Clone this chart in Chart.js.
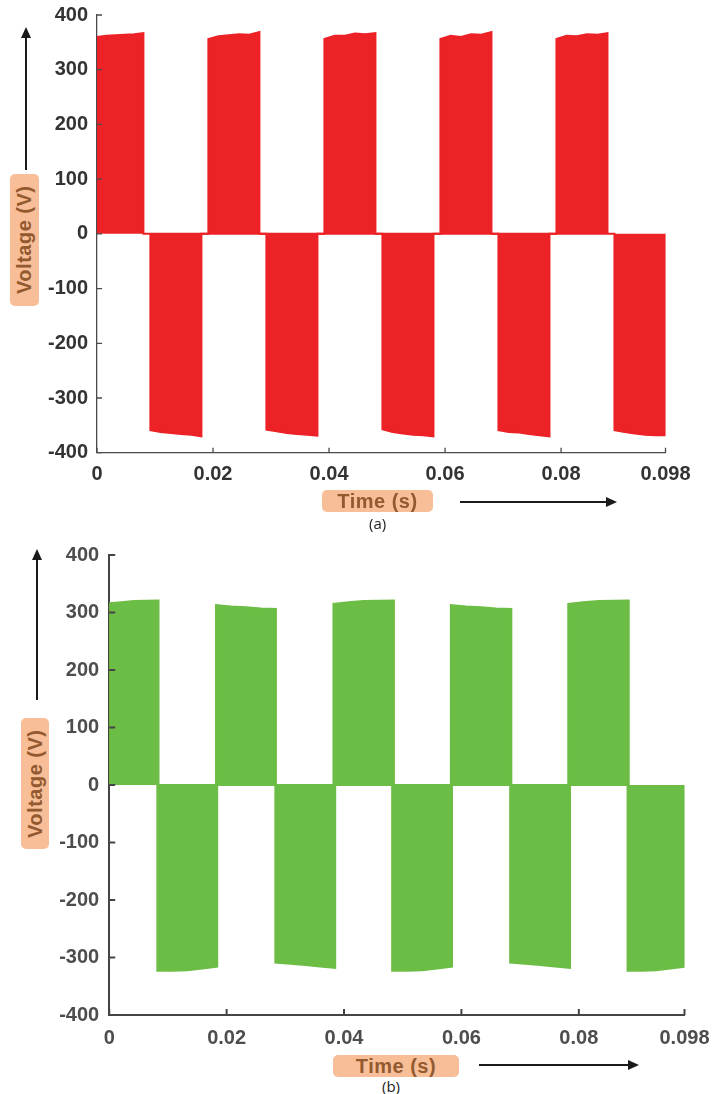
<!DOCTYPE html>
<html>
<head>
<meta charset="utf-8">
<script src="https://cdn.jsdelivr.net/npm/chart.js@4"></script>
<style>
  body { margin: 0; width: 713px; height: 1094px; background: #fff; position: relative; overflow: hidden; font-family: "Liberation Sans", Arial, sans-serif; }
  .box { position: absolute; }
  .tag { position: absolute; background: #f7be98; border-radius: 5px; color: #93592f; font-weight: bold; font-size: 20px; display: flex; align-items: center; justify-content: center; letter-spacing: 0.5px; }
  .vtag { writing-mode: vertical-rl; transform: rotate(180deg); }
  .vline { position: absolute; width: 2px; background: #1a1a1a; }
  .hline { position: absolute; height: 2px; background: #1a1a1a; }
  .uphead { position: absolute; width: 0; height: 0; border-left: 5px solid transparent; border-right: 5px solid transparent; border-bottom: 11px solid #1a1a1a; }
  .righthead { position: absolute; width: 0; height: 0; border-top: 5px solid transparent; border-bottom: 5px solid transparent; border-left: 11px solid #1a1a1a; }
  .cap { position: absolute; font-size: 15px; color: #222; font-family: "Open Sans", "Liberation Sans", sans-serif; }
</style>
</head>
<body>
<div class="box" style="left:0;top:0;width:713px;height:495px"><canvas id="chartA"></canvas></div>
<div class="box" style="left:0;top:535px;width:713px;height:520px"><canvas id="chartB"></canvas></div>

<!-- panel (a) labels -->
<div class="uphead" style="left:21px;top:27px"></div>
<div class="vline" style="left:25px;top:37px;height:133px"></div>
<div class="tag vtag" style="left:10px;top:174px;width:29px;height:132px">Voltage (V)</div>
<div class="tag" style="left:322px;top:490px;width:111px;height:22px">Time (s)</div>
<div class="hline" style="left:460px;top:501px;width:147px"></div>
<div class="righthead" style="left:606px;top:497px"></div>
<div class="cap" style="left:369px;top:513px">(a)</div>

<!-- panel (b) labels -->
<div class="uphead" style="left:32px;top:549px"></div>
<div class="vline" style="left:36px;top:559px;height:141px"></div>
<div class="tag vtag" style="left:21px;top:718px;width:28px;height:131px">Voltage (V)</div>
<div class="tag" style="left:333px;top:1055px;width:126px;height:22px">Time (s)</div>
<div class="hline" style="left:479px;top:1064px;width:150px"></div>
<div class="righthead" style="left:628px;top:1060px"></div>
<div class="cap" style="left:382px;top:1076px">(b)</div>

<script>
// axis ticks
const xTicks = [0, 0.02, 0.04, 0.06, 0.08, 0.098];
const yMin = -400;
const yMax = 400;

// (a) red output: start / end time of each block and its edge voltage read along the block
const redPosStart = [0, 0.0192, 0.0392, 0.0592, 0.0792];
const redPosEnd = [0.0080, 0.0280, 0.0480, 0.0680, 0.0880];
const redPosEdge = [
  [360, 362, 363, 364, 365, 367],
  [356, 361, 363, 365, 364, 369],
  [356, 362, 362, 366, 365, 367],
  [356, 362, 360, 365, 364, 369],
  [356, 362, 361, 365, 364, 367]
];
const redNegStart = [0.0092, 0.0292, 0.0492, 0.0692, 0.0892];
const redNegEnd = [0.0180, 0.0380, 0.0580, 0.0780, 0.098];
const redNegEdge = [
  [-359, -362, -364, -366, -367, -370],
  [-358, -361, -364, -366, -367, -369],
  [-357, -362, -365, -367, -368, -370],
  [-359, -362, -363, -366, -368, -370],
  [-359, -362, -365, -367, -368, -368]
];

// (b) green output
const greenPosStart = [0, 0.0182, 0.0382, 0.0582, 0.0782];
const greenPosEnd = [0.0084, 0.0284, 0.0485, 0.0685, 0.0885];
const greenPosEdge = [
  [316, 318, 320, 320.5, 321],
  [313, 310.5, 309, 307, 306],
  [315, 318, 320, 320.5, 321],
  [313, 310.5, 309, 307, 306],
  [315, 318, 320, 320.5, 321]
];
const greenNegStart = [0.0082, 0.0283, 0.0482, 0.0683, 0.0883];
const greenNegEnd = [0.0184, 0.0385, 0.0584, 0.0785, 0.098];
const greenNegEdge = [
  [-323, -323, -322, -319, -316],
  [-309, -311, -313, -315.5, -318],
  [-323, -323, -322, -319, -316],
  [-309, -311, -313, -315.5, -318],
  [-323, -323, -322, -319, -316]
];

// turn the block lists into line points (edges spread over each block)
const blockPoints = (starts, ends, edges) => {
  let pts = [];
  starts.forEach((s, i) => {
    let e = ends[i];
    let n = edges[i].length;
    pts.push({x: s, y: 0});
    edges[i].forEach((v, j) => {
      pts.push({x: s + (e - s) * j / (n - 1), y: v});
    });
    pts.push({x: e, y: 0});
  });
  return pts;
};

// small inward tick marks like the original plot
const inTicks = {
  id: 'inTicks',
  afterDraw(chart, args, opts) {
    const ctx = chart.ctx;
    const xs = chart.scales.x;
    const ys = chart.scales.y;
    ctx.save();
    ctx.strokeStyle = opts.color;
    ctx.lineWidth = opts.width;
    ctx.beginPath();
    ys.ticks.forEach(t => {
      let py = ys.getPixelForValue(t.value);
      ctx.moveTo(xs.left, py);
      ctx.lineTo(xs.left + opts.len, py);
    });
    xs.ticks.forEach(t => {
      let px = xs.getPixelForValue(t.value);
      ctx.moveTo(px, ys.bottom);
      ctx.lineTo(px, ys.bottom - opts.len);
    });
    ctx.stroke();
    ctx.restore();
  }
};

const makeChart = (id, posPts, negPts, colour, cfg) => {
  const font = {family: '"Liberation Sans", Arial, sans-serif', size: 20, weight: 'bold'};
  return new Chart(document.getElementById(id), {
    type: 'line',
    data: {
      datasets: [
        {data: posPts, borderColor: colour, backgroundColor: colour, fill: 'origin', borderWidth: 2, pointRadius: 0, tension: 0},
        {data: negPts, borderColor: colour, backgroundColor: colour, fill: 'origin', borderWidth: 2, pointRadius: 0, tension: 0}
      ]
    },
    options: {
      responsive: true,
      maintainAspectRatio: false,
      animation: false,
      events: [],
      layout: {padding: {top: cfg.top, right: cfg.right, left: 0, bottom: 0}},
      plugins: {
        legend: {display: false},
        tooltip: {enabled: false},
        inTicks: {color: cfg.axis, width: cfg.axisWidth, len: cfg.tickLen}
      },
      scales: {
        x: {
          type: 'linear',
          min: 0,
          max: 0.098,
          afterBuildTicks: s => { s.ticks = xTicks.map(v => ({value: v})); },
          afterFit: s => { s.height = cfg.xHeight; s.paddingLeft = 0; s.paddingRight = 0; },
          grid: {display: true, drawOnChartArea: false, drawTicks: false},
          border: {display: true, color: cfg.axis, width: cfg.axisWidth},
          ticks: {font: font, color: cfg.text, padding: cfg.xPad, maxRotation: 0, autoSkip: false, callback: v => String(v)}
        },
        y: {
          min: yMin,
          max: yMax,
          afterFit: s => { s.width = cfg.yWidth; s.paddingTop = 0; s.paddingBottom = 0; },
          grid: {display: true, drawOnChartArea: false, drawTicks: false},
          border: {display: true, color: cfg.axis, width: cfg.axisWidth},
          ticks: {font: font, color: cfg.text, padding: cfg.yPad, stepSize: 100}
        }
      }
    },
    plugins: [inTicks]
  });
};

makeChart('chartA',
  blockPoints(redPosStart, redPosEnd, redPosEdge),
  blockPoints(redNegStart, redNegEnd, redNegEdge),
  '#ec2227',
  {top: 15, right: 47.5, yWidth: 97, xHeight: 42.3, xPad: 10, yPad: 9, axis: '#4a4a4a', axisWidth: 1.3, tickLen: 5, text: '#333333'});

makeChart('chartB',
  blockPoints(greenPosStart, greenPosEnd, greenPosEdge),
  blockPoints(greenNegStart, greenNegEnd, greenNegEdge),
  '#6cbd45',
  {top: 20, right: 28.5, yWidth: 109.2, xHeight: 40, xPad: 11, yPad: 10, axis: '#444444', axisWidth: 2, tickLen: 6, text: '#4d4d4d'});
</script>
</body>
</html>
